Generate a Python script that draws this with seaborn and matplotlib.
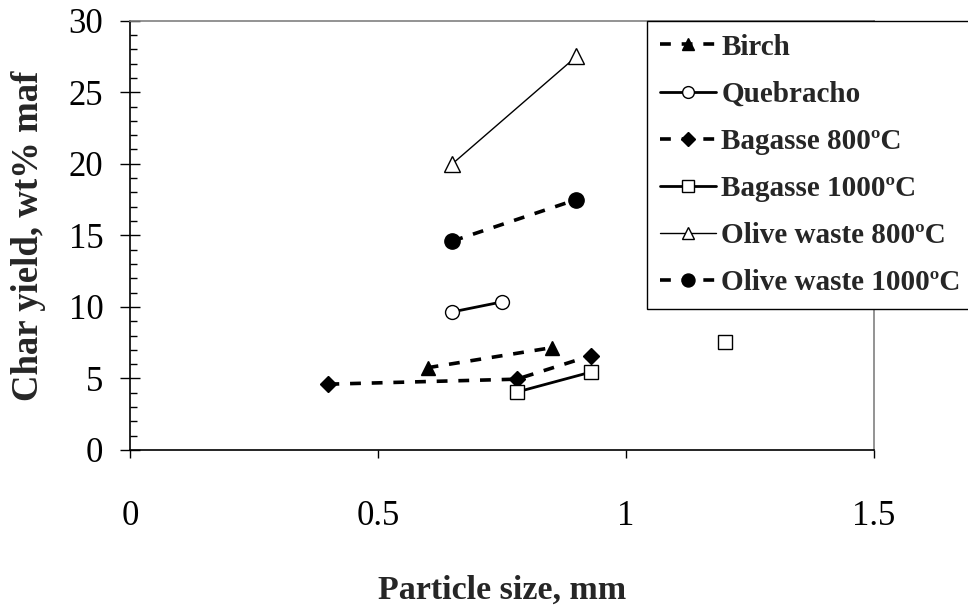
import numpy as np
import pandas as pd
import matplotlib
matplotlib.use("Agg")
import matplotlib.pyplot as plt
from matplotlib.ticker import MultipleLocator
import seaborn as sns

# Char yield (wt% maf) against particle size (mm)
birch_x = [0.60, 0.85]
birch_y = [5.75, 7.15]

quebracho_x = [0.65, 0.75]
quebracho_y = [9.65, 10.35]

bagasse800_x = [0.40, 0.78, 0.93]
bagasse800_y = [4.6, 4.95, 6.6]

bagasse1000_x = [0.78, 0.93, 1.20]
bagasse1000_y = [4.05, 5.45, 7.55]
bagasse1000_run = [0, 0, 1]  # last measurement not joined to the others

olive800_x = [0.65, 0.90]
olive800_y = [20.0, 27.5]

olive1000_x = [0.65, 0.90]
olive1000_y = [14.6, 17.5]

series_names = ["Birch", "Quebracho", "Bagasse 800ºC", "Bagasse 1000ºC",
                "Olive waste 800ºC", "Olive waste 1000ºC"]

x_ticks = [0, 0.5, 1, 1.5]
y_ticks = [0, 5, 10, 15, 20, 25, 30]

sns.set_theme(style="ticks")
plt.rcParams["font.family"] = ["Liberation Serif", "DejaVu Serif"]

fig = plt.figure(figsize=(9.68, 6.05), dpi=100)
ax = fig.add_axes([130 / 968, 1 - 450 / 605, (874 - 130) / 968, (450 - 20.7) / 605])

dash = (3, 3)
styles = [
    dict(x=birch_x, y=birch_y, marker="^", mfc="black", lw=2.6, dashed=True, ms=10),
    dict(x=quebracho_x, y=quebracho_y, marker="o", mfc="white", lw=2.0, dashed=False, ms=10),
    dict(x=bagasse800_x, y=bagasse800_y, marker="D", mfc="black", lw=2.6, dashed=True, ms=8),
    dict(x=bagasse1000_x, y=bagasse1000_y, marker="s", mfc="white", lw=2.0, dashed=False, ms=10),
    dict(x=olive800_x, y=olive800_y, marker="^", mfc="white", lw=1.0, dashed=False, ms=11),
    dict(x=olive1000_x, y=olive1000_y, marker="o", mfc="black", lw=2.6, dashed=True, ms=11),
]

handles = []
for name, st in zip(series_names, styles):
    ls = (0, dash) if st["dashed"] else "-"
    if name == "Bagasse 1000ºC":
        df = pd.DataFrame({"x": st["x"], "y": st["y"], "run": bagasse1000_run})
        joined = df[df["run"] == 0]
        alone = df[df["run"] == 1]
        sns.lineplot(data=joined, x="x", y="y", ax=ax, color="black", lw=st["lw"],
                     linestyle=ls, marker=st["marker"], markersize=st["ms"],
                     markerfacecolor=st["mfc"], markeredgecolor="black",
                     markeredgewidth=1.0, sort=False, estimator=None)
        sns.lineplot(data=alone, x="x", y="y", ax=ax, color="black", lw=0,
                     marker=st["marker"], markersize=st["ms"],
                     markerfacecolor=st["mfc"], markeredgecolor="black",
                     markeredgewidth=1.0, estimator=None)
    else:
        df = pd.DataFrame({"x": st["x"], "y": st["y"]})
        sns.lineplot(data=df, x="x", y="y", ax=ax, color="black", lw=st["lw"],
                     linestyle=ls, marker=st["marker"], markersize=st["ms"],
                     markerfacecolor=st["mfc"], markeredgecolor="black",
                     markeredgewidth=1.0, sort=False, estimator=None)
    h = plt.Line2D([], [], color="black", lw=st["lw"], linestyle=ls,
                   marker=st["marker"], markersize=st["ms"] * 0.85,
                   markerfacecolor=st["mfc"], markeredgecolor="black",
                   markeredgewidth=1.0)
    handles.append(h)

ax.set_xlim(0, 1.5)
ax.set_ylim(0, 30)
ax.set_xticks(x_ticks)
ax.set_xticklabels([f"{t:g}" for t in x_ticks])
ax.set_yticks(y_ticks)
ax.set_yticklabels([f"{t:g}" for t in y_ticks])
ax.yaxis.set_minor_locator(MultipleLocator(1))

ax.tick_params(axis="y", which="major", direction="inout", length=14.4, width=1.0,
               labelsize=25, pad=12, color="black", labelcolor="black")
ax.tick_params(axis="y", which="minor", direction="in", length=5, width=1.0, color="black")
ax.tick_params(axis="x", which="major", direction="out", length=6, width=1.0,
               labelsize=25, pad=30, color="black", labelcolor="black")

for side in ["left", "bottom"]:
    ax.spines[side].set_color("black")
    ax.spines[side].set_linewidth(1.2)
for side in ["top", "right"]:
    ax.spines[side].set_visible(True)
    ax.spines[side].set_color("#808080")
    ax.spines[side].set_linewidth(1.2)

ax.set_xlabel("Particle size, mm", fontsize=24.5, fontweight="bold", labelpad=30)
ax.set_ylabel("Char yield, wt% maf", fontsize=26.5, fontweight="bold", labelpad=16)

leg = fig.legend(handles, series_names, loc="upper left",
                 bbox_to_anchor=(647 / 968, 1 - 20.5 / 605), bbox_transform=fig.transFigure,
                 prop={"family": "Liberation Serif", "weight": "bold", "size": 21},
                 frameon=True, fancybox=False, framealpha=1, edgecolor="black",
                 handlelength=1.9, handletextpad=0.2, labelspacing=0.69,
                 borderpad=0.45, borderaxespad=0)
leg.get_frame().set_linewidth(1.0)

fig.savefig("out.png", dpi=100)
